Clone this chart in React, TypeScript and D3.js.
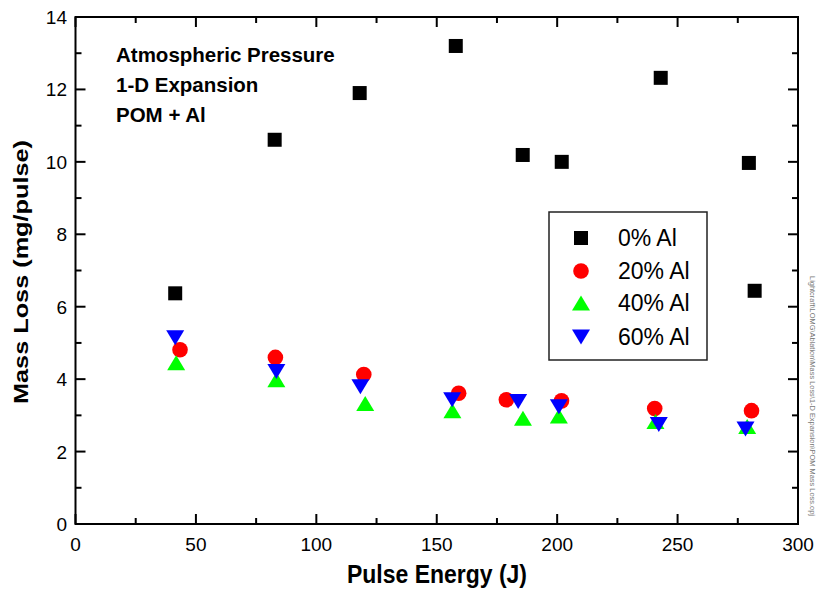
import React from "react";
import * as d3 from "d3";

const energy0 = [41.4, 82.7, 118, 157.9, 185.7, 201.9, 243, 279.6, 282];
const loss0 = [6.37, 10.61, 11.9, 13.2, 10.19, 10.0, 12.32, 9.97, 6.44];
const energy20 = [43.4, 83.0, 119.7, 159.1, 178.9, 201.8, 240.5, 280.7];
const loss20 = [4.81, 4.6, 4.13, 3.61, 3.43, 3.4, 3.19, 3.13];
const energy40 = [41.8, 83.4, 120.3, 156.5, 185.8, 200.7, 240.8, 278.9];
const loss40 = [4.45, 3.98, 3.33, 3.13, 2.92, 2.98, 2.83, 2.69];
const energy60 = [41.4, 83.4, 118.3, 156.4, 183.8, 200.7, 242.2, 278.2];
const loss60 = [5.14, 4.21, 3.79, 3.43, 3.38, 3.24, 2.75, 2.62];

const seriesNames = ["0% Al", "20% Al", "40% Al", "60% Al"];
const xMajorTicks = [0, 50, 100, 150, 200, 250, 300];
const xMinorTicks = [25, 75, 125, 175, 225, 275];
const yMajorTicks = [0, 2, 4, 6, 8, 10, 12, 14];
const yMinorTicks = [1, 3, 5, 7, 9, 11, 13];
const notes = ["Atmospheric Pressure", "1-D Expansion", "POM + Al"];

const L = 75.5, R = 798, T = 17, B = 524;
const x = d3.scaleLinear().domain([0, 300]).range([L, R]);
const y = d3.scaleLinear().domain([0, 14]).range([B, T]);

const FONT = "Liberation Sans, Arial, Helvetica, sans-serif";

type Shape = "square" | "circle" | "up" | "down";
const shapes: Shape[] = ["square", "circle", "up", "down"];
const colors = ["#000000", "#ff0000", "#00ff00", "#0000ff"];

function Marker({ cx, cy, shape, color }: { cx: number; cy: number; shape: Shape; color: string }) {
  if (shape === "square") return <rect x={cx - 7} y={cy - 7} width={14} height={14} fill={color} />;
  if (shape === "circle") return <circle cx={cx} cy={cy} r={7.8} fill={color} />;
  const w = 9, h = 7.5;
  if (shape === "up")
    return <path d={`M${cx},${cy - h} L${cx + w},${cy + h} L${cx - w},${cy + h} Z`} fill={color} />;
  return <path d={`M${cx - w},${cy - h} L${cx + w},${cy - h} L${cx},${cy + h} Z`} fill={color} />;
}

export default function App() {
  const series = [
    { xs: energy0, ys: loss0 },
    { xs: energy20, ys: loss20 },
    { xs: energy40, ys: loss40 },
    { xs: energy60, ys: loss60 },
  ];
  const major = 10, minor = 6;
  const legendRows = [238, 271, 303, 337];
  return (
    <svg width={818} height={591} style={{ position: "absolute", left: 0, top: 0, background: "#fff" }}>
      <rect width={818} height={591} fill="#fff" />
      {/* ticks */}
      <g stroke="#000" strokeWidth={2}>
        {xMajorTicks.map((t) => (
          <g key={"xM" + t}>
            <line x1={x(t)} x2={x(t)} y1={B} y2={B - major} />
            <line x1={x(t)} x2={x(t)} y1={T} y2={T + major} />
          </g>
        ))}
        {xMinorTicks.map((t) => (
          <g key={"xm" + t}>
            <line x1={x(t)} x2={x(t)} y1={B} y2={B - minor} />
            <line x1={x(t)} x2={x(t)} y1={T} y2={T + minor} />
          </g>
        ))}
        {yMajorTicks.map((t) => (
          <g key={"yM" + t}>
            <line x1={L} x2={L + major} y1={y(t)} y2={y(t)} />
            <line x1={R} x2={R - major} y1={y(t)} y2={y(t)} />
          </g>
        ))}
        {yMinorTicks.map((t) => (
          <g key={"ym" + t}>
            <line x1={L} x2={L + minor} y1={y(t)} y2={y(t)} />
            <line x1={R} x2={R - minor} y1={y(t)} y2={y(t)} />
          </g>
        ))}
        <rect x={L} y={T} width={R - L} height={B - T} fill="none" />
      </g>
      {/* tick labels */}
      <g fontFamily={FONT} fontSize={19} fill="#000">
        {xMajorTicks.map((t) => (
          <text key={"xl" + t} x={x(t)} y={551} textAnchor="middle">
            {t}
          </text>
        ))}
        {yMajorTicks.map((t) => (
          <text key={"yl" + t} x={67} y={y(t) + 7} textAnchor="end">
            {t}
          </text>
        ))}
      </g>
      {/* axis titles */}
      <text
        x={437}
        y={583}
        textAnchor="middle"
        fontFamily={FONT}
        fontWeight="bold"
        fontSize={26}
        textLength={180}
        lengthAdjust="spacingAndGlyphs"
      >
        Pulse Energy (J)
      </text>
      <text
        transform="translate(28,272) rotate(-90)"
        textAnchor="middle"
        fontFamily={FONT}
        fontWeight="bold"
        fontSize={21}
        textLength={264}
        lengthAdjust="spacingAndGlyphs"
      >
        Mass Loss (mg/pulse)
      </text>
      {/* annotations */}
      <g fontFamily={FONT} fontWeight="bold" fontSize={20.5}>
        {notes.map((n, i) => (
          <text key={n} x={116} y={62 + i * 30}>
            {n}
          </text>
        ))}
      </g>
      {/* data */}
      {series.map((s, si) =>
        s.xs.map((xv, i) => (
          <Marker key={si + "-" + i} cx={x(xv)} cy={y(s.ys[i])} shape={shapes[si]} color={colors[si]} />
        ))
      )}
      {/* legend */}
      <rect x={549} y={212} width={158} height={148} fill="#fff" stroke="#222" strokeWidth={1.5} />
      {seriesNames.map((n, i) => (
        <g key={n}>
          <Marker cx={581} cy={legendRows[i]} shape={shapes[i]} color={colors[i]} />
          <text x={618} y={legendRows[i] + 8} fontFamily={FONT} fontSize={23}>
            {n}
          </text>
        </g>
      ))}
      {/* side file path */}
      <text
        transform="translate(810,276) rotate(90)"
        fontFamily={FONT}
        fontSize={7}
        fill="#777"
        textLength={240}
        lengthAdjust="spacingAndGlyphs"
      >
        Lightcraft\LOMG\Ablation\Mass Loss\1-D Expansion\POM Mass Loss.opj
      </text>
    </svg>
  );
}
